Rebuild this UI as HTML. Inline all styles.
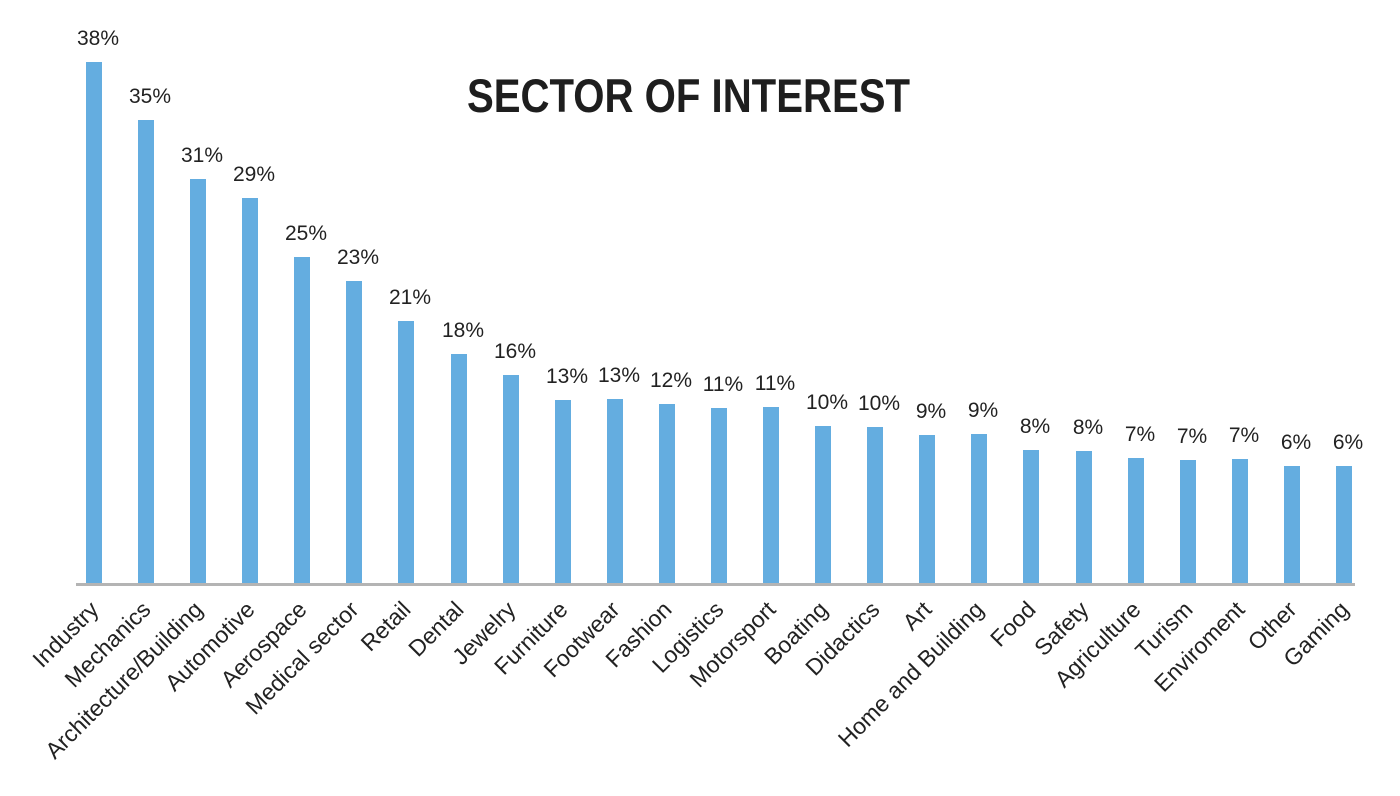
<!DOCTYPE html>
<html><head><meta charset="utf-8"><style>
html,body{margin:0;padding:0;background:#fff;}
svg{display:block;}
text{font-family:"Liberation Sans",sans-serif;fill:#222;}
.p{font-size:21px;text-anchor:middle;}
.l{font-size:23px;text-anchor:end;}
</style></head><body>
<svg width="1400" height="796" viewBox="0 0 1400 796" xmlns="http://www.w3.org/2000/svg">
<text x="467" y="112" font-size="47" font-weight="bold" textLength="443" lengthAdjust="spacingAndGlyphs" style="fill:#1e1e1e">SECTOR OF INTEREST</text>
<g fill="#64ade0">
<rect x="86" y="62" width="16" height="522"/>
<rect x="138" y="120" width="16" height="464"/>
<rect x="190" y="179" width="16" height="405"/>
<rect x="242" y="198" width="16" height="386"/>
<rect x="294" y="257" width="16" height="327"/>
<rect x="346" y="281" width="16" height="303"/>
<rect x="398" y="321" width="16" height="263"/>
<rect x="451" y="354" width="16" height="230"/>
<rect x="503" y="375" width="16" height="209"/>
<rect x="555" y="400" width="16" height="184"/>
<rect x="607" y="399" width="16" height="185"/>
<rect x="659" y="404" width="16" height="180"/>
<rect x="711" y="408" width="16" height="176"/>
<rect x="763" y="407" width="16" height="177"/>
<rect x="815" y="426" width="16" height="158"/>
<rect x="867" y="427" width="16" height="157"/>
<rect x="919" y="435" width="16" height="149"/>
<rect x="971" y="434" width="16" height="150"/>
<rect x="1023" y="450" width="16" height="134"/>
<rect x="1076" y="451" width="16" height="133"/>
<rect x="1128" y="458" width="16" height="126"/>
<rect x="1180" y="460" width="16" height="124"/>
<rect x="1232" y="459" width="16" height="125"/>
<rect x="1284" y="466" width="16" height="118"/>
<rect x="1336" y="466" width="16" height="118"/>
</g>
<g>
<text class="p" x="98" y="45">38%</text>
<text class="p" x="150" y="103">35%</text>
<text class="p" x="202" y="162">31%</text>
<text class="p" x="254" y="181">29%</text>
<text class="p" x="306" y="240">25%</text>
<text class="p" x="358" y="264">23%</text>
<text class="p" x="410" y="304">21%</text>
<text class="p" x="463" y="337">18%</text>
<text class="p" x="515" y="358">16%</text>
<text class="p" x="567" y="383">13%</text>
<text class="p" x="619" y="382">13%</text>
<text class="p" x="671" y="387">12%</text>
<text class="p" x="723" y="391">11%</text>
<text class="p" x="775" y="390">11%</text>
<text class="p" x="827" y="409">10%</text>
<text class="p" x="879" y="410">10%</text>
<text class="p" x="931" y="418">9%</text>
<text class="p" x="983" y="417">9%</text>
<text class="p" x="1035" y="433">8%</text>
<text class="p" x="1088" y="434">8%</text>
<text class="p" x="1140" y="441">7%</text>
<text class="p" x="1192" y="443">7%</text>
<text class="p" x="1244" y="442">7%</text>
<text class="p" x="1296" y="449">6%</text>
<text class="p" x="1348" y="449">6%</text>
</g>
<g>
<text class="l" x="100" y="611" transform="rotate(-45 100 611)">Industry</text>
<text class="l" x="152" y="611" transform="rotate(-45 152 611)">Mechanics</text>
<text class="l" x="204" y="611" transform="rotate(-45 204 611)">Architecture/Building</text>
<text class="l" x="256" y="611" transform="rotate(-45 256 611)">Automotive</text>
<text class="l" x="308" y="611" transform="rotate(-45 308 611)">Aerospace</text>
<text class="l" x="360" y="611" transform="rotate(-45 360 611)">Medical sector</text>
<text class="l" x="412" y="611" transform="rotate(-45 412 611)">Retail</text>
<text class="l" x="465" y="611" transform="rotate(-45 465 611)">Dental</text>
<text class="l" x="517" y="611" transform="rotate(-45 517 611)">Jewelry</text>
<text class="l" x="569" y="611" transform="rotate(-45 569 611)">Furniture</text>
<text class="l" x="621" y="611" transform="rotate(-45 621 611)">Footwear</text>
<text class="l" x="673" y="611" transform="rotate(-45 673 611)">Fashion</text>
<text class="l" x="725" y="611" transform="rotate(-45 725 611)">Logistics</text>
<text class="l" x="777" y="611" transform="rotate(-45 777 611)">Motorsport</text>
<text class="l" x="829" y="611" transform="rotate(-45 829 611)">Boating</text>
<text class="l" x="881" y="611" transform="rotate(-45 881 611)">Didactics</text>
<text class="l" x="933" y="611" transform="rotate(-45 933 611)">Art</text>
<text class="l" x="985" y="611" transform="rotate(-45 985 611)">Home and Building</text>
<text class="l" x="1037" y="611" transform="rotate(-45 1037 611)">Food</text>
<text class="l" x="1090" y="611" transform="rotate(-45 1090 611)">Safety</text>
<text class="l" x="1142" y="611" transform="rotate(-45 1142 611)">Agriculture</text>
<text class="l" x="1194" y="611" transform="rotate(-45 1194 611)">Turism</text>
<text class="l" x="1246" y="611" transform="rotate(-45 1246 611)">Enviroment</text>
<text class="l" x="1298" y="611" transform="rotate(-45 1298 611)">Other</text>
<text class="l" x="1350" y="611" transform="rotate(-45 1350 611)">Gaming</text>
</g>
<rect x="76" y="583" width="1279" height="3" fill="#b4b4b4"/>
</svg>
</body></html>
